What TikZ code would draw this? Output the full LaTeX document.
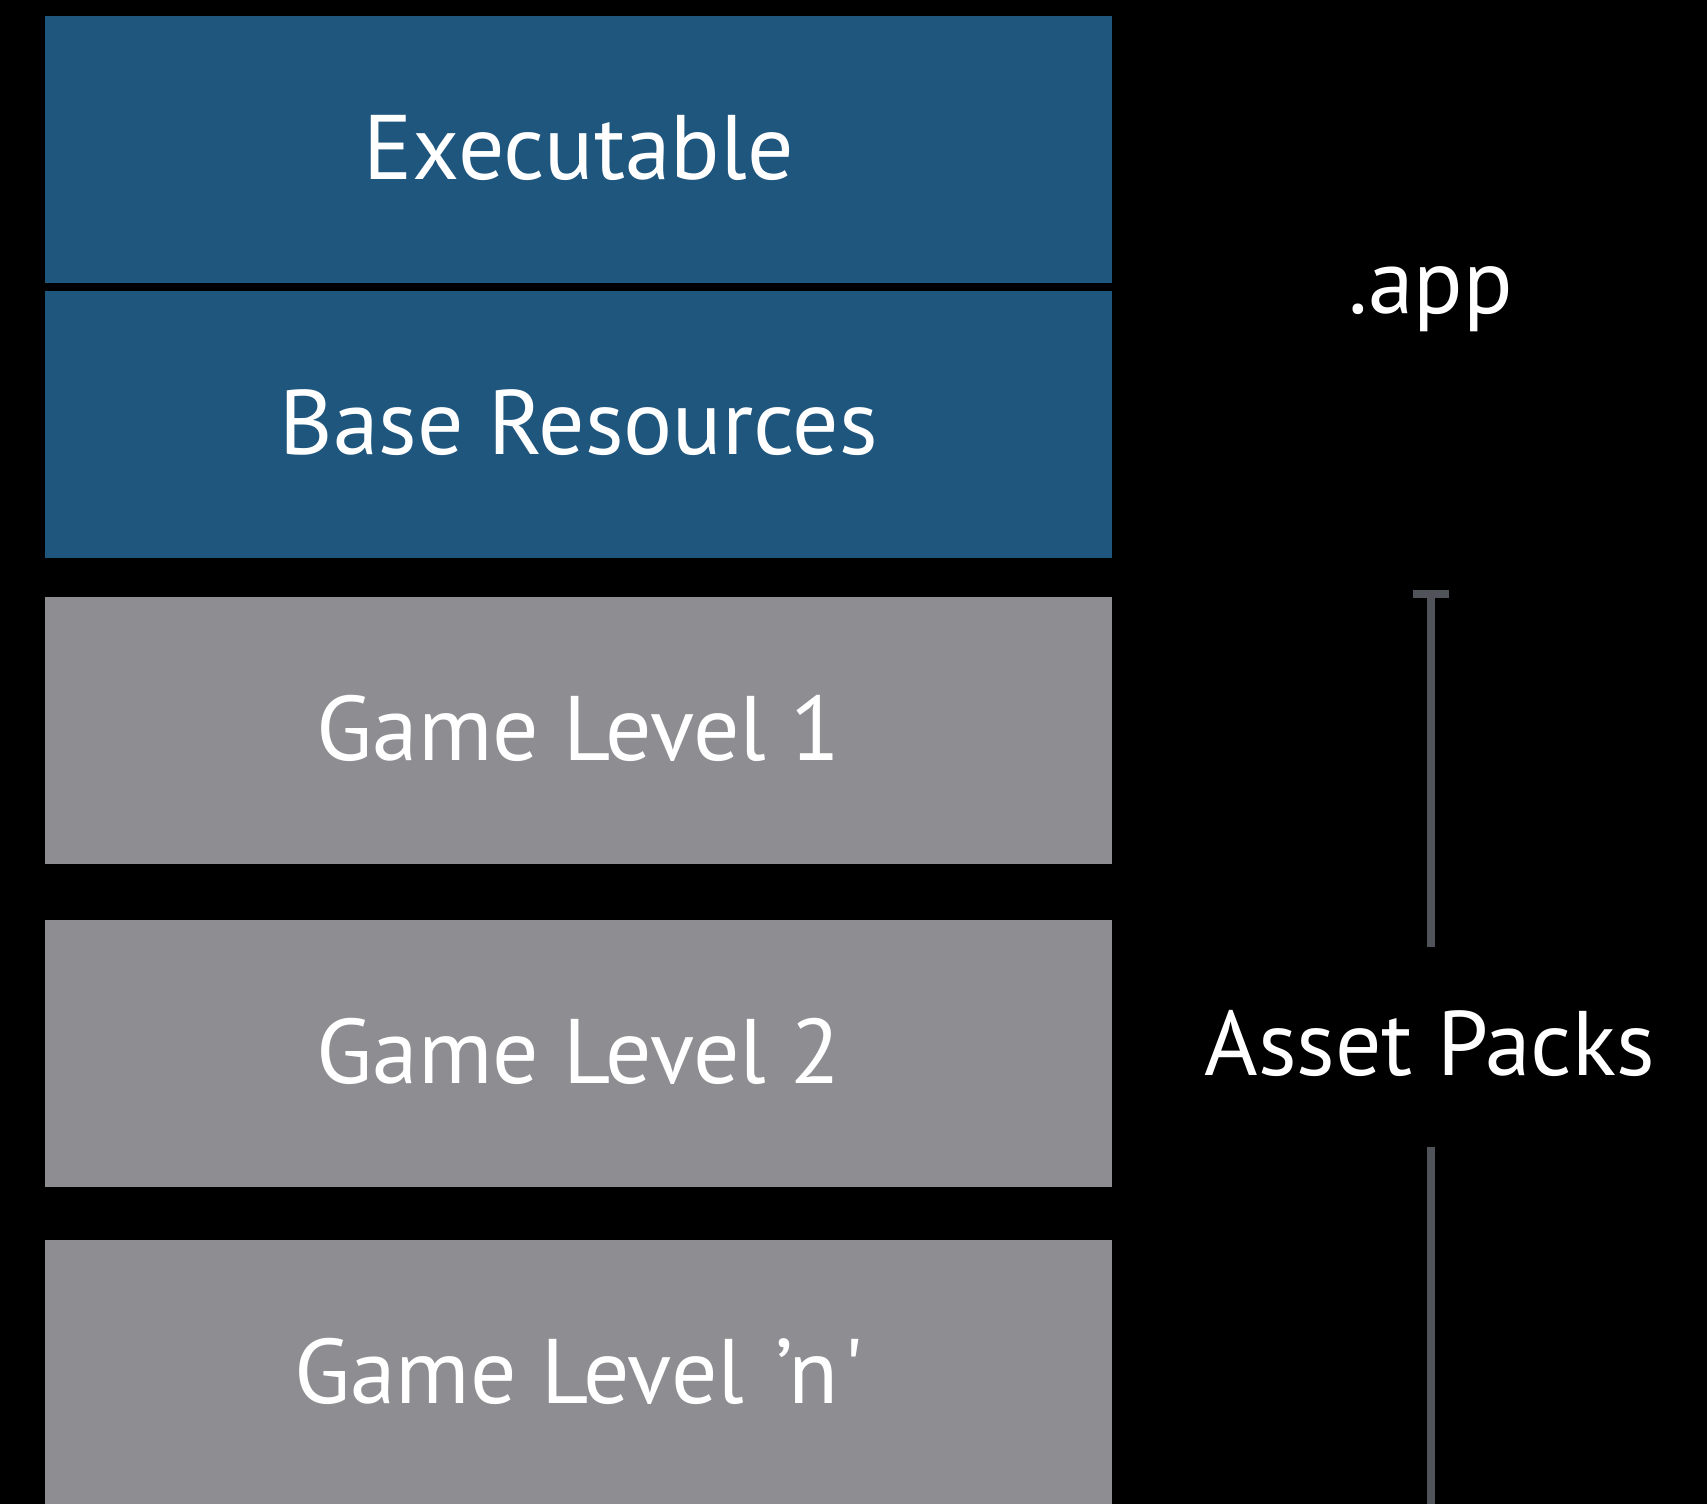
\documentclass[tikz,border=0pt]{standalone}
\usepackage{fontspec}
\setmainfont{PT Sans}[Ligatures=TeXOff]
\definecolor{boxblue}{HTML}{1F567E}
\definecolor{boxgray}{HTML}{8E8D92}
\definecolor{bracketgray}{HTML}{50545A}
\begin{document}
\begin{tikzpicture}[x=1bp,y=-1bp,
  every node/.style={font=\fontsize{92}{106}\selectfont, text=white, inner sep=0pt},
  layer/.style={minimum width=1067bp, minimum height=266.7bp, text height=60bp, text depth=0pt, anchor=north west},
  applayer/.style={layer, fill=boxblue},
  assetlayer/.style={layer, fill=boxgray},
  bracketline/.style={draw=bracketgray, line width=8bp},
  sidelabel/.style={anchor=base}]
\fill[black] (0,0) rectangle (1707,1504);
\useasboundingbox (0,0) rectangle (1707,1504);
\node[applayer] (exe) at (45,16) {Executable};
\node[applayer] (base) at (45,291) {Base Resources};
\node[assetlayer] (lvl1) at (45,597) {Game Level 1};
\node[assetlayer] (lvl2) at (45,920) {Game Level 2};
\node[assetlayer] (lvln) at (45,1240) {Game Level \hspace{7bp}’n\hspace{5bp}\symbol{"0027}};
\node[sidelabel] (app) at (1430.5,313) {.app};
\node[sidelabel] (assets) at (1429.5,1075) {Asset Packs};
\coordinate (tickL) at (1413,594);
\coordinate (tickR) at (1448.6,594);
\coordinate (topA) at (1430.7,590);
\coordinate (topB) at (1430.7,946.7);
\coordinate (botA) at (1430.7,1146.7);
\coordinate (botB) at (1430.7,1504);
\draw[bracketline] (tickL) -- (tickR);
\draw[bracketline] (topA) -- (topB);
\draw[bracketline] (botA) -- (botB);
\end{tikzpicture}
\end{document}
